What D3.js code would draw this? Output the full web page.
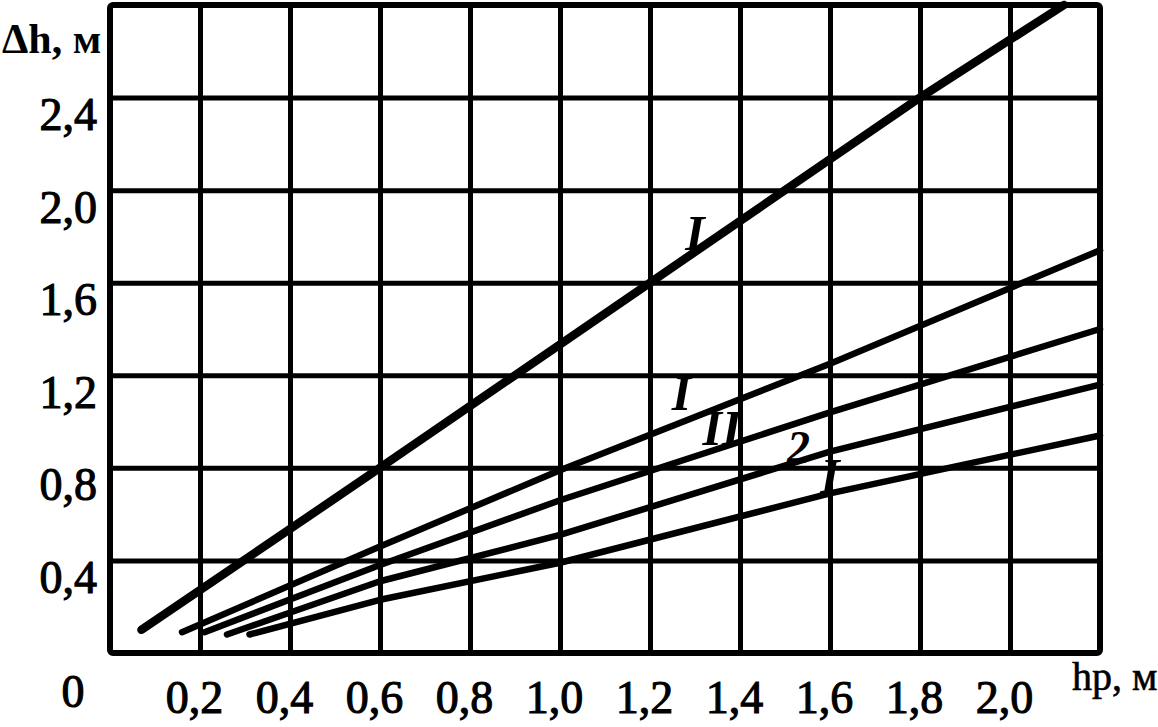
<!DOCTYPE html>
<html>
<head>
<meta charset="utf-8">
<script src="https://cdn.jsdelivr.net/npm/d3@7"></script>
<style>
  body { margin: 0; background: #fff; }
  svg { display: block; }
  .tick text { font-family: "Liberation Serif", "DejaVu Serif", serif; font-size: 46px; fill: #000; stroke: #000; stroke-width: 1.1px; }
  .tick line { stroke: #000; stroke-width: 5px; }
  .title { font-family: "Liberation Serif", serif; fill: #000; }
  .curve-label { font-family: "Liberation Serif", serif; font-weight: bold; font-style: italic; font-size: 50px; fill: #000; }
</style>
</head>
<body>
<div id="chart"></div>
<script>
// hp, m (x) and delta h, m (y) for each curve
var hp1 = [0.07, 0.6, 1.2, 1.8, 2.12];
var dh1 = [0.10, 0.80, 1.60, 2.40, 2.80];
var hp2 = [0.16, 0.6, 1.0, 1.6, 2.2];
var dh2 = [0.09, 0.46, 0.79, 1.25, 1.74];
var hp3 = [0.21, 0.6, 1.0, 1.6, 2.2];
var dh3 = [0.09, 0.38, 0.66, 1.04, 1.40];
var hp4 = [0.26, 0.6, 1.0, 1.6, 2.2];
var dh4 = [0.08, 0.31, 0.51, 0.87, 1.16];
var hp5 = [0.31, 0.6, 1.0, 1.6, 2.2];
var dh5 = [0.08, 0.23, 0.39, 0.69, 0.94];

var curveNames = ["I", "I", "II", "2", "I"];
var labelHp = [1.30, 1.27, 1.36, 1.53, 1.60];

var xTicks = [0.2, 0.4, 0.6, 0.8, 1.0, 1.2, 1.4, 1.6, 1.8, 2.0];
var yTicks = [0.4, 0.8, 1.2, 1.6, 2.0, 2.4];

var drawChart = function(){
    var W = 1158, H = 727;
    var mLeft = 110, mRight = 1100, mTop = 5, mBottom = 653;

    var svg = d3.select("#chart").append("svg").attr("width", W).attr("height", H);

    var x = d3.scaleLinear().domain([0, 2.2]).range([mLeft, mRight]);
    var y = d3.scaleLinear().domain([0, 2.8]).range([mBottom, mTop]);

    var fmt = function(d){ return d.toFixed(1).replace(".", ","); };

    // vertical grid + x labels
    var gx = svg.append("g")
        .attr("transform", "translate(0," + mBottom + ")")
        .call(d3.axisBottom(x).tickValues(xTicks).tickSize(-(mBottom - mTop)).tickFormat(fmt));
    gx.select(".domain").remove();
    gx.selectAll(".tick text").attr("y", 60).attr("dy", 0).attr("dx", -6);

    // horizontal grid + y labels
    var gy = svg.append("g")
        .attr("transform", "translate(" + mLeft + ",0)")
        .call(d3.axisLeft(y).tickValues(yTicks).tickSize(-(mRight - mLeft)).tickFormat(fmt));
    gy.select(".domain").remove();
    gy.selectAll(".tick text").attr("x", -13).attr("dy", 32);

    // frame
    svg.append("rect")
        .attr("x", mLeft).attr("y", mTop)
        .attr("width", mRight - mLeft).attr("height", mBottom - mTop)
        .attr("fill", "none").attr("stroke", "#000").attr("stroke-width", 6)
        .attr("rx", 3);

    // curves
    var series = [[hp1, dh1], [hp2, dh2], [hp3, dh3], [hp4, dh4], [hp5, dh5]];
    var line = d3.line().x(function(d){ return x(d[0]); }).y(function(d){ return y(d[1]); });
    var labelDy = [-2, -12, -2, 2, 0];

    series.forEach(function(s, i){
        var pts = s[0].map(function(v, j){ return [v, s[1][j]]; });
        svg.append("path")
            .attr("d", line(pts))
            .attr("fill", "none")
            .attr("stroke", "#000")
            .attr("stroke-width", i == 0 ? 8.5 : 6.5)
            .attr("stroke-linecap", "round")
            .attr("stroke-linejoin", "round");

        // label sitting on the curve
        var h = labelHp[i];
        var v = d3.scaleLinear().domain(s[0]).range(s[1])(h);
        svg.append("text")
            .attr("class", "curve-label")
            .attr("x", x(h))
            .attr("y", y(v) + labelDy[i])
            .attr("text-anchor", "middle")
            .style("font-size", i == 3 ? "46px" : null)
            .text(curveNames[i]);
    });

    // axis titles and origin
    svg.append("text").attr("class", "title")
        .attr("x", 2).attr("y", 53)
        .style("font-size", "42px").style("font-weight", "bold")
        .text("Δh, м");

    svg.append("text").attr("class", "title")
        .attr("x", 1072).attr("y", 690)
        .style("font-size", "40px")
        .attr("stroke", "#000").attr("stroke-width", 0.6)
        .text("hp, м");

    svg.append("text").attr("class", "title")
        .attr("x", 73).attr("y", 707)
        .attr("text-anchor", "middle")
        .style("font-size", "46px")
        .attr("stroke", "#000").attr("stroke-width", 1.1)
        .text("0");
};

drawChart();
</script>
</body>
</html>
